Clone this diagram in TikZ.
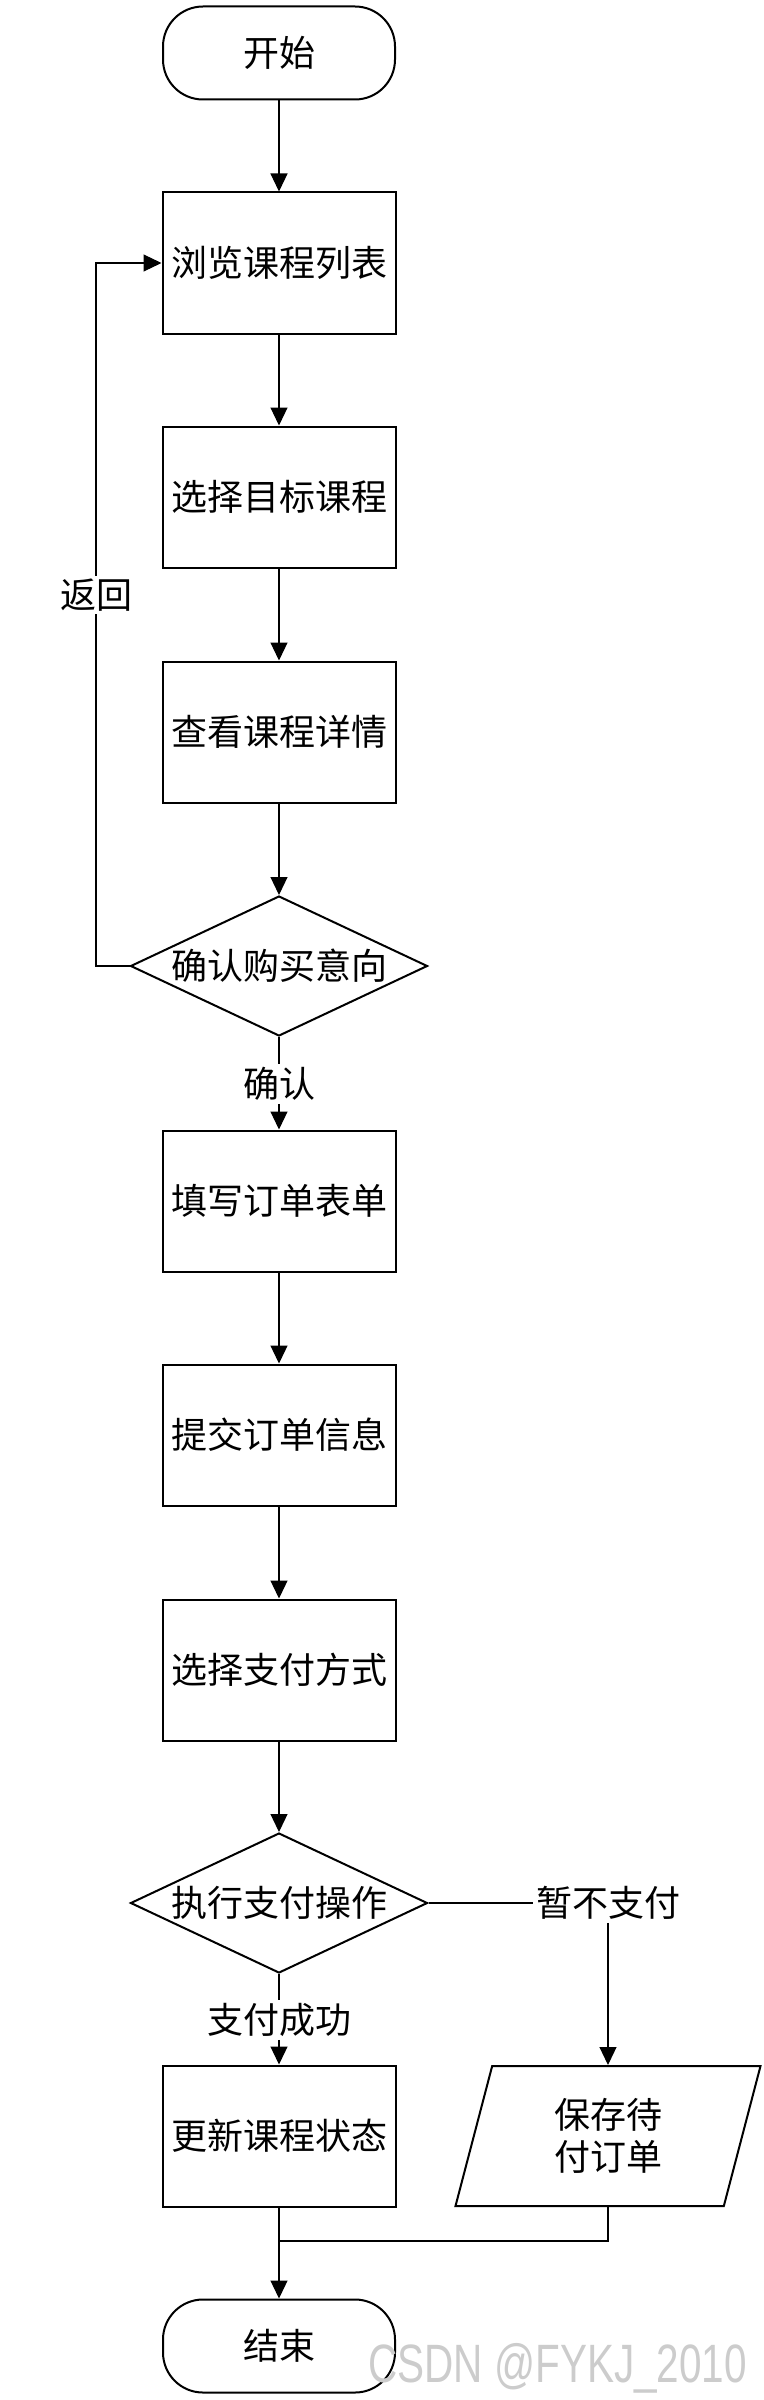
\documentclass[tikz,border=0pt]{standalone}
\usepackage{fontspec}
\setmainfont{Noto Sans CJK SC}
\newfontfamily\wmfont[FakeStretch=0.75]{Liberation Sans}
\usetikzlibrary{arrows.meta, shapes.geometric, positioning}

\begin{document}
\begin{tikzpicture}[x=1pt, y=-1pt,
    every node/.style={font=\fontsize{36}{42}\selectfont},
    proc/.style={draw, line width=2pt, minimum width=233pt, minimum height=141pt, inner sep=0pt},
    term/.style={draw, line width=2pt, rounded corners=40pt, minimum width=232pt, minimum height=93pt},
    decide/.style={draw, line width=2pt, diamond, aspect=2.12, minimum width=297pt, minimum height=140pt, inner sep=0pt},
    iobox/.style={draw, line width=2pt, trapezium, trapezium left angle=64, trapezium right angle=116,
        trapezium stretches body, minimum width=305pt, minimum height=140pt, align=center, inner sep=0pt},
    lbl/.style={fill=white, inner sep=3pt},
    line/.style={line width=1.2pt},
    arr/.style={line width=1.2pt, -{Triangle[length=18pt,width=17pt]}}]
            \useasboundingbox (0,0) rectangle (763,2400);
            % main column
            \node[term] (start) at (279,53) {开始};
            \node[proc] (browse) at (279,263) {浏览课程列表};
            \node[proc] (select) at (279,497) {选择目标课程};
            \node[proc] (detail) at (279,732) {查看课程详情};
            \node[decide] (confirm) at (279,966) {确认购买意向};
            \node[lbl] (yes) at (279,1084) {确认};
            \node[proc] (fill) at (279,1201) {填写订单表单};
            \node[proc] (submit) at (279,1435) {提交订单信息};
            \node[proc] (method) at (279,1670) {选择支付方式};
            \node[decide] (pay) at (279,1903) {执行支付操作};
            \node[lbl] (ok) at (279,2020) {支付成功};
            \node[proc] (update) at (279,2136) {更新课程状态};
            \node[term] (finish) at (279,2346) {结束};
            % side branch and loop
            \node[lbl] (later) at (608,1903) {暂不支付};
            \node[iobox] (save) at (608,2136) {保存待\\付订单};
            \node[lbl] (back) at (96,595) {返回};
            \coordinate (merge) at (279,2241);
            \node[text=black!20, font=\wmfont\fontsize{54}{54}\selectfont, anchor=base west, inner sep=0pt] (mark) at (368,2382) {CSDN @FYKJ\_2010};

            \draw[arr] (start) -- (browse);
            \draw[arr] (browse) -- (select);
            \draw[arr] (select) -- (detail);
            \draw[arr] (detail) -- (confirm);
            \draw[line] (confirm) -- (yes);
            \draw[arr] (yes) -- (fill);
            \draw[arr] (fill) -- (submit);
            \draw[arr] (submit) -- (method);
            \draw[arr] (method) -- (pay);
            \draw[line] (pay) -- (ok);
            \draw[arr] (ok) -- (update);
            \draw[line] (pay.east) -- (later.west);
            \draw[arr] (later) -- (save.center |- save.north);
            \draw[line] (confirm.west) -| (back.south);
            \draw[arr] (back.north) |- (browse.west);
            \draw[line] (save.center |- save.south) |- (merge);
            \draw[arr] (update) -- (finish);
        \end{tikzpicture}
\end{document}
